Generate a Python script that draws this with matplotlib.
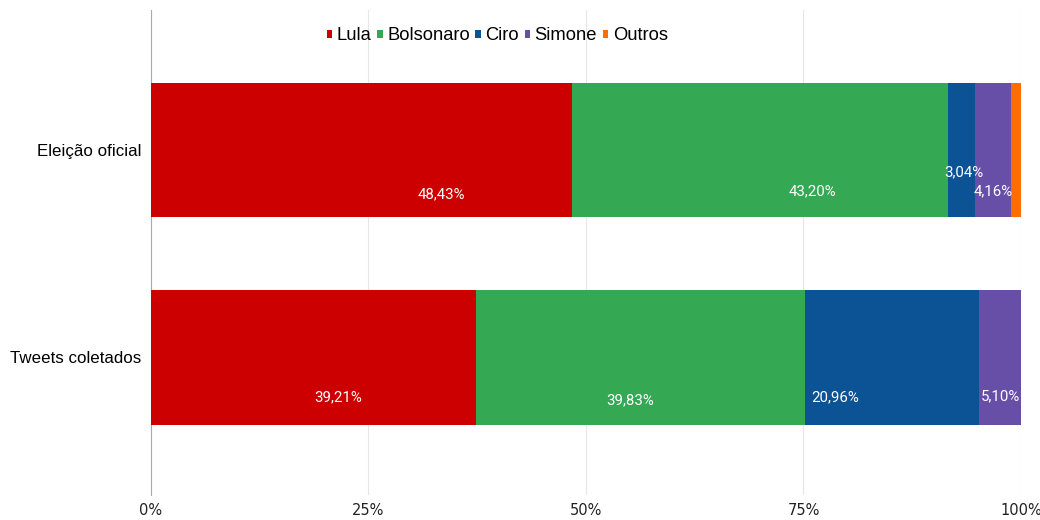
import numpy as np
import matplotlib.pyplot as plt
from matplotlib.ticker import PercentFormatter

categories = ['Eleição oficial', 'Tweets coletados']
candidates = ['Lula', 'Bolsonaro', 'Ciro', 'Simone', 'Outros']
colors = ['#cc0000', '#34a853', '#0b5394', '#674ea7', '#ff6d01']

# vote shares (%) per candidate, one entry per category
values = {
    'Lula': [48.43, 39.21],
    'Bolsonaro': [43.20, 39.83],
    'Ciro': [3.04, 20.96],
    'Simone': [4.16, 5.10],
    'Outros': [1.17, 0.0],
}

# where each value label sits inside its segment (fraction of width, offset down)
label_xfrac = {
    'Lula': [0.69, 0.575],
    'Bolsonaro': [0.64, 0.47],
    'Ciro': [0.6, 0.17],
    'Simone': [0.5, 0.52],
}
label_ydrop = {
    'Lula': [0.215, 0.195],
    'Bolsonaro': [0.2, 0.21],
    'Ciro': [0.105, 0.195],
    'Simone': [0.2, 0.19],
}

data = np.array([values[c] for c in candidates])
shares = data / data.sum(axis=0) * 100

fig = plt.figure(figsize=(10.4, 5.2), dpi=100)
ax = fig.add_axes([0.1452, 0.048, 0.8365, 0.933])

y = np.arange(len(categories))
left = np.zeros(len(categories))
for i, cand in enumerate(candidates):
    ax.barh(y, shares[i], left=left, height=0.65, color=colors[i],
            label=cand, zorder=3)
    if cand in label_xfrac:
        for j in range(len(categories)):
            xpos = left[j] + shares[i][j] * label_xfrac[cand][j]
            ax.text(xpos, y[j] + label_ydrop[cand][j],
                    f'{data[i][j]:.2f}%'.replace('.', ','),
                    ha='center', va='center', color='white',
                    fontsize=10.8, family='Roboto', zorder=4)
    left += shares[i]

ax.set_xlim(0, 100)
ax.set_ylim(1.665, -0.677)
ax.set_yticks(y)
ax.set_yticklabels(categories, fontsize=12.2, family='Liberation Sans')
ax.set_xticks([0, 25, 50, 75, 100])
ax.xaxis.set_major_formatter(PercentFormatter(decimals=0))
for lbl in ax.get_xticklabels():
    lbl.set_family('Liberation Sans Narrow')
    lbl.set_fontsize(10.5)
    lbl.set_color('#222222')
ax.tick_params(axis='y', length=0, pad=7)
ax.tick_params(axis='x', length=0, pad=6)

ax.grid(axis='x', color='#e6e6e6', linewidth=0.8, zorder=0)
for side in ['top', 'right', 'bottom']:
    ax.spines[side].set_visible(False)
ax.spines['left'].set_color('#aaaaaa')
ax.spines['left'].set_linewidth(0.8)

leg = ax.legend(loc='upper center', bbox_to_anchor=(0.398, 0.998), ncol=5,
                frameon=False, handlelength=0.3, handleheight=0.3,
                handletextpad=0.25, columnspacing=0.3,
                prop={'family': 'Liberation Sans', 'size': 13.2})

fig.savefig('out.png', dpi=100)
